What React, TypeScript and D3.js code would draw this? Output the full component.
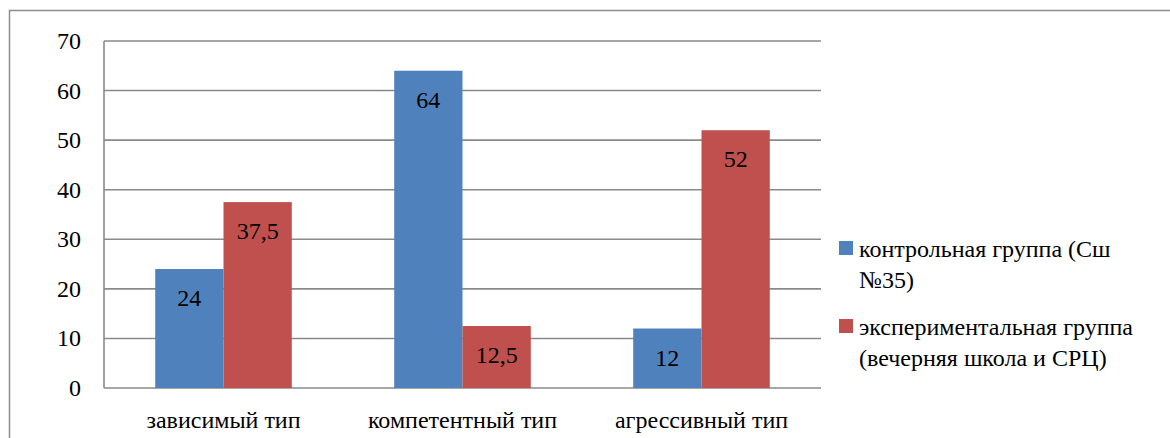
import * as d3 from 'd3';

const CATEGORIES = ['зависимый тип', 'компетентный тип', 'агрессивный тип'];
const LEGEND_LINES = [
  ['контрольная группа (Сш', '№35)'],
  ['экспериментальная группа', '(вечерняя школа и СРЦ)'],
];
const CONTROL = [24, 64, 12];
const EXPERIMENTAL = [37.5, 12.5, 52];
const Y_TICKS = [0, 10, 20, 30, 40, 50, 60, 70];
const COLORS = ['#4F81BD', '#C0504D'];

const WIDTH = 1170;
const HEIGHT = 438;
const PLOT = { left: 104, right: 821, top: 41, bottom: 388 };

const serif = { fontFamily: 'Liberation Serif' };

export default function App() {
  const series = [CONTROL, EXPERIMENTAL];

  const x = d3
    .scaleBand<string>()
    .domain(CATEGORIES)
    .range([PLOT.left, PLOT.right])
    .paddingInner(1.5 / 3.5)
    .paddingOuter(0.75 / 3.5);
  const xs = d3
    .scaleBand<number>()
    .domain(series.map((_, i) => i))
    .range([0, x.bandwidth()]);
  const y = d3.scaleLinear().domain([0, 70]).range([PLOT.bottom, PLOT.top]);

  const legendTop = [241, 319];

  return (
    <div style={{ position: 'absolute', left: 0, top: 0, width: WIDTH, height: HEIGHT, background: '#fff' }}>
      <svg width={WIDTH} height={HEIGHT} style={{ display: 'block' }}>
        <path d={`M9.5,${HEIGHT} V10.5 H${WIDTH}`} fill="none" stroke="#8c8c8c" strokeWidth={1.5} />

        {Y_TICKS.map((t) => (
          <line key={'g' + t} x1={PLOT.left} x2={PLOT.right} y1={y(t)} y2={y(t)} stroke="#8a8a8a" strokeWidth={1.6} />
        ))}
        <line x1={PLOT.left} x2={PLOT.left} y1={PLOT.top} y2={PLOT.bottom} stroke="#8a8a8a" strokeWidth={1.6} />

        {Y_TICKS.map((t) => (
          <text key={'t' + t} x={81} y={y(t) + 8} fontSize={24} textAnchor="end" style={serif}>
            {t}
          </text>
        ))}

        {series.map((values, si) =>
          values.map((v, i) => {
            const bx = x(CATEGORIES[i])! + xs(si)!;
            return (
              <g key={si + '-' + i}>
                <rect x={bx} y={y(v)} width={xs.bandwidth()} height={y(0) - y(v)} fill={COLORS[si]} />
                <text x={bx + xs.bandwidth() / 2} y={y(v) + 37} fontSize={24} textAnchor="middle" style={serif}>
                  {String(v).replace('.', ',')}
                </text>
              </g>
            );
          }),
        )}

        {CATEGORIES.map((c) => (
          <text key={c} x={x(c)! + x.bandwidth() / 2} y={428} fontSize={24} textAnchor="middle" style={serif}>
            {c}
          </text>
        ))}

        {LEGEND_LINES.map((lines, si) => (
          <g key={si}>
            <rect x={839} y={legendTop[si]} width={14} height={14} fill={COLORS[si]} />
            {lines.map((line, li) => (
              <text key={li} x={859} y={legendTop[si] + 16 + li * 31} fontSize={24} style={serif}>
                {line}
              </text>
            ))}
          </g>
        ))}
      </svg>
    </div>
  );
}
